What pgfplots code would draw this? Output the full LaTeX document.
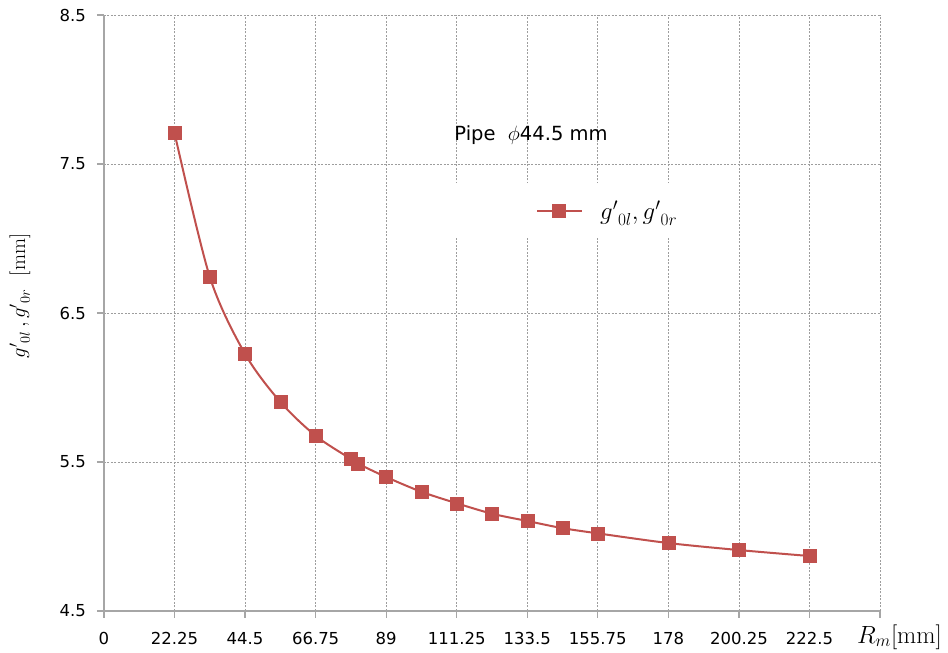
\documentclass[border=0pt]{standalone}
\usepackage[no-math]{fontspec}
\setmainfont{DejaVu Sans}
\usepackage{pgfplots}
\pgfplotsset{compat=1.18}
\definecolor{exred}{HTML}{C0504D}
\definecolor{gridc}{HTML}{8C8C8C}
\definecolor{axc}{HTML}{A6A6A6}
\begin{document}
\begin{tikzpicture}
\useasboundingbox (-104pt,-42pt) rectangle (844pt,611pt);
\begin{axis}[
  at={(0,0)}, anchor=south west,
  scale only axis, width=776pt, height=596pt,
  xmin=0, xmax=244.75, ymin=4.5, ymax=8.5,
  axis x line*=bottom, axis y line*=left,
  axis line style={axc, line width=1.2pt, -},
  xtick={0,22.25,44.5,66.75,89,111.25,133.5,155.75,178,200.25,222.5,244.75},
  xticklabels={0,22.25,44.5,66.75,89,111.25,133.5,155.75,178,200.25,222.5,},
  ytick={4.5,5.5,6.5,7.5,8.5},
  yticklabels={4.5,5.5,6.5,7.5,8.5},
  tick align=outside, major tick length=7pt,
  tick style={axc, line width=1.2pt},
  grid=major,
  grid style={gridc!85, line width=0.8pt, dash pattern=on 2pt off 1.5pt},
  xticklabel style={font=\fontsize{16.5}{18}\selectfont, inner sep=0pt, anchor=north, yshift=-14pt},
  yticklabel style={font=\fontsize{16.5}{18}\selectfont, inner sep=0pt, anchor=east, xshift=-11pt},
  clip=false,
  legend style={at={(rel axis cs:0.5567,0.6711)}, anchor=west, inner sep=0pt, draw=none, fill=none,
    nodes={inner xsep=18pt, inner ysep=0pt}, font=\fontsize{26}{28}\selectfont},
  legend image code/.code={
    \draw[#1, mark repeat=2, mark phase=2] plot coordinates {(0pt,0pt) (22pt,0pt) (44pt,0pt)};},
]
\fill[white] (rel axis cs:0.4459,0.6275) rectangle (rel axis cs:0.7874,0.7181);
\addplot[exred, line width=2pt, smooth, tension=0.5, mark=square*, mark size=6.5pt,
  mark options={fill=exred, draw=exred, line width=0.5pt}]
  coordinates {
  (22.25,7.708) (33.375,6.742) (44.5,6.225) (55.625,5.903) (66.75,5.676)
  (77.875,5.520) (79.9,5.491) (89,5.399) (100.125,5.300) (111.25,5.223)
  (122.375,5.153) (133.5,5.104) (144.625,5.056) (155.75,5.021)
  (178,4.956) (200.25,4.909) (222.5,4.869)
  };
\addlegendentry{${g^{\prime}}_{0l}, {g^{\prime}}_{0r}$}
\node[font=\fontsize{19.5}{21}\selectfont, anchor=center] at (rel axis cs:0.5503,0.7987) {Pipe\ \ \fontsize{22}{24}\selectfont$\phi$\fontsize{19.5}{21}\selectfont 44.5 mm};
\node[rotate=90, anchor=center, font=\fontsize{21}{23}\selectfont] at ([xshift=-84pt]rel axis cs:0,0.5285) {${g^{\prime}}_{0l}\,, {g^{\prime}}_{0r}$\ \ $[\mathrm{mm}]$};
\node[anchor=west, font=\fontsize{23}{25}\selectfont, inner sep=0pt] at ([xshift=-23pt, yshift=-26pt]rel axis cs:1,0) {$R_m[\mathrm{mm}]$};
\end{axis}
\end{tikzpicture}
\end{document}
